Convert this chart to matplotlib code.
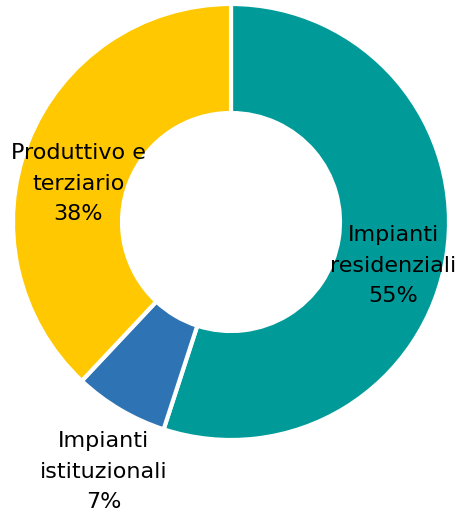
import matplotlib
matplotlib.use("Agg")
import matplotlib.pyplot as plt

categories = ["Impianti residenziali", "Impianti istituzionali", "Produttivo e terziario"]
label_lines = ["Impianti\nresidenziali", "Impianti\nistituzionali", "Produttivo e\nterziario"]
values = [55, 7, 38]
colors = ["#009B99", "#2E74B5", "#FFC800"]

fig = plt.figure(figsize=(4.62, 5.15), dpi=100)
cx, cy, R = 231, 222, 218
W, H = 462, 515
ax = fig.add_axes([(cx - R) / W, (H - cy - R) / H, 2 * R / W, 2 * R / H])
wedges, _ = ax.pie(values, colors=colors, startangle=90, counterclock=False, radius=1,
                   wedgeprops=dict(width=0.5, edgecolor="white", linewidth=3))
ax.set_xlim(-1, 1)
ax.set_ylim(-1, 1)
ax.set_aspect("equal")
ax.axis("off")

pos = [(0.745, -0.20), (-0.585, -1.145), (-0.70, 0.175)]
for (x, y), lab, v in zip(pos, label_lines, values):
    ax.text(x, y, f"{lab}\n{v}%", ha="center", va="center", fontsize=16,
            family="DejaVu Sans", linespacing=1.65, color="black", clip_on=False)

fig.savefig("out.png", dpi=100)
